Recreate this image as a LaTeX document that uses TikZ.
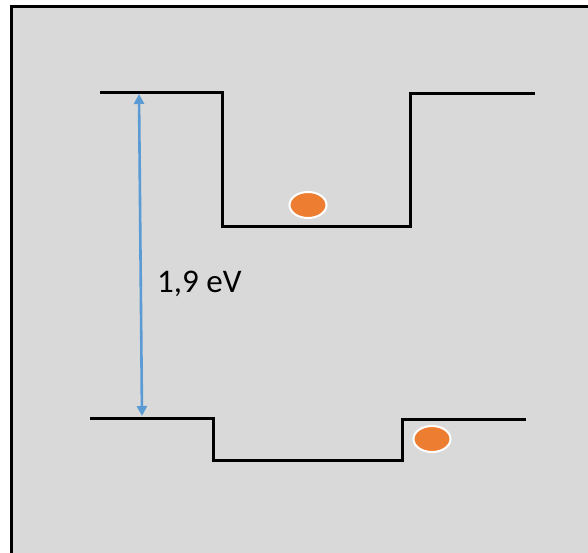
\documentclass[tikz,border=0pt]{standalone}
\usepackage{fontspec}
\setmainfont{Carlito}
\usetikzlibrary{arrows.meta,shapes.geometric}
\definecolor{panelgray}{RGB}{217,217,217}
\definecolor{arrowblue}{RGB}{91,155,213}
\definecolor{dotorange}{RGB}{237,125,49}
\begin{document}
\begin{tikzpicture}[x=1pt,y=-1pt,
  level/.style={draw=black,line width=3pt,line join=miter},
  carrier/.style={ellipse,fill=dotorange,draw=white,line width=2pt,minimum width=37pt,minimum height=26pt,inner sep=0pt},
  gap/.style={draw=arrowblue,line width=2.6pt,{Triangle[length=10pt,width=10pt]}-{Triangle[length=10pt,width=10pt]}},
  label/.style={font=\fontsize{33}{38}\selectfont,text=black,anchor=base west,inner sep=0pt}]
\useasboundingbox (0,0) rectangle (588,552);
\clip (0,0) rectangle (588,552);
\fill[white] (0,0) rectangle (588,552);
\fill[panelgray] (11,6) rectangle (600,570);
\draw[line width=3pt] (11,600) -- (11,6) -- (600,6);
% upper level
\coordinate (u1) at (100,92);
\coordinate (u2) at (222,92);
\coordinate (u3) at (222,226);
\coordinate (u4) at (410,226);
\coordinate (u5) at (410,93);
\coordinate (u6) at (535,93);
\draw[level] (u1) -- (u2) -- (u3) -- (u4) -- (u5) -- (u6);
% lower level
\coordinate (l1) at (90,418);
\coordinate (l2) at (213,418);
\coordinate (l3) at (213,460);
\coordinate (l4) at (402,460);
\coordinate (l5) at (402,419);
\coordinate (l6) at (526,419);
\draw[level] (l1) -- (l2) -- (l3) -- (l4) -- (l5) -- (l6);
% gap arrow
\coordinate (gtop) at (139,94);
\coordinate (gbot) at (142,416);
\draw[gap] (gtop) -- (gbot);
\node[label] (eg) at (157,292) {1,9 eV};
% carriers
\node[carrier] (e1) at (308,205) {};
\node[carrier] (h1) at (432,439) {};
\end{tikzpicture}
\end{document}
